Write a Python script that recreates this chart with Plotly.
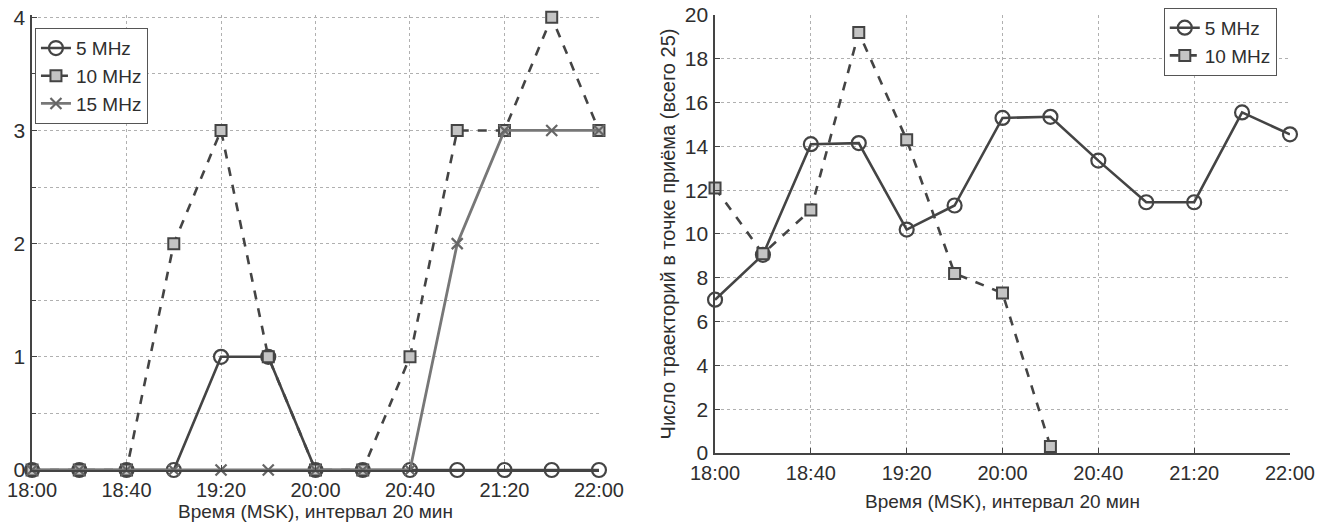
import plotly.graph_objects as go

# ---- data ----
x_idx = list(range(13))  # 20-min steps from 18:00 to 22:00
tick_pos = [0, 2, 4, 6, 8, 10, 12]
tick_labels = ["18:00", "18:40", "19:20", "20:00", "20:40", "21:20", "22:00"]

left_5mhz = [0, 0, 0, 0, 1, 1, 0, 0, 0, 0, 0, 0, 0]
left_10mhz = [0, 0, 0, 2, 3, 1, 0, 0, 1, 3, 3, 4, 3]
left_15mhz = [0, 0, 0, 0, 0, 0, 0, 0, 0, 2, 3, 3, 3]

right_5mhz = [7.0, 9.05, 14.1, 14.15, 10.2, 11.3, 15.3, 15.35, 13.35, 11.45, 11.45, 15.55, 14.55]
right_10mhz_x = [0, 1, 2, 3, 4, 5, 6, 7]
right_10mhz = [12.1, 9.1, 11.1, 19.2, 14.3, 8.2, 7.3, 0.3]

x_title = "Время (MSK), интервал 20 мин"
y_title_right = "Число траекторий в точке приёма (всего 25)"

FONT = "Liberation Sans, Arial, sans-serif"
LINE = "#444444"
TXT = "#2e2e2e"
GRID = "#b0b0b0"

fig = go.Figure()

def circle_trace(x, y, name, xa, ya, lg):
    return go.Scatter(x=x, y=y, name=name, xaxis=xa, yaxis=ya, legend=lg,
                      mode="lines+markers",
                      line=dict(color=LINE, width=2.6, dash="solid"),
                      marker=dict(symbol="circle-open", size=14, color=LINE,
                                  line=dict(width=2.2, color=LINE)),
                      cliponaxis=False)

def square_trace(x, y, name, xa, ya, lg):
    return go.Scatter(x=x, y=y, name=name, xaxis=xa, yaxis=ya, legend=lg,
                      mode="lines+markers",
                      line=dict(color=LINE, width=2.6, dash="dash"),
                      marker=dict(symbol="square", size=11, color="#c4c4c4",
                                  line=dict(width=2, color=LINE)),
                      cliponaxis=False)

# left panel
fig.add_trace(circle_trace(x_idx, left_5mhz, "5 MHz", "x", "y", "legend"))
fig.add_trace(square_trace(x_idx, left_10mhz, "10 MHz", "x", "y", "legend"))
fig.add_trace(go.Scatter(x=x_idx, y=left_15mhz, name="15 MHz", xaxis="x", yaxis="y",
                         legend="legend", mode="lines+markers",
                         line=dict(color="#777777", width=2.8, dash="solid"),
                         marker=dict(symbol="x-thin", size=11, color="#666666",
                                     line=dict(width=2.2, color="#666666")),
                         cliponaxis=False))

# right panel
fig.add_trace(circle_trace(x_idx, right_5mhz, "5 MHz", "x2", "y2", "legend2"))
fig.add_trace(square_trace(right_10mhz_x, right_10mhz, "10 MHz", "x2", "y2", "legend2"))

tickfont = dict(family=FONT, size=20, color=TXT)
ytickfont = dict(family=FONT, size=21, color=TXT)
titlefont = dict(family=FONT, size=19, color=TXT)

xcommon = dict(range=[0, 12], tickvals=tick_pos, ticktext=tick_labels,
               showgrid=True, gridcolor=GRID, griddash="dot", gridwidth=1,
               showline=True, linecolor=LINE, linewidth=1.5,
               ticks="inside", ticklen=5, tickcolor=LINE,
               tickfont=tickfont, zeroline=False, automargin=False,
               ticklabelstandoff=1,
               title=dict(text=x_title, font=titlefont, standoff=12))

fig.update_layout(
    width=1319, height=522,
    margin=dict(l=0, r=0, t=0, b=0),
    paper_bgcolor="white", plot_bgcolor="white",
    showlegend=True,
    xaxis=dict(domain=[0.0243, 0.4541], anchor="y", **xcommon),
    yaxis=dict(domain=[0.0996, 0.9713], anchor="x", range=[0, 4.02],
               tickvals=[0, 1, 2, 3, 4], showgrid=True, gridcolor=GRID,
               griddash="dot", showline=True, linecolor=LINE, linewidth=1.5,
               ticks="inside", ticklen=5, tickcolor=LINE, tickfont=ytickfont,
               zeroline=False, automargin=False, ticklabelstandoff=1,
               minor=dict(dtick=0.5, showgrid=True, gridcolor=GRID,
                          griddash="dot", ticks="inside", ticklen=4,
                          tickcolor=LINE)),
    xaxis2=dict(domain=[0.5421, 0.978], anchor="y2", **xcommon),
    yaxis2=dict(domain=[0.1322, 0.9713], anchor="x2", range=[0, 20],
                dtick=2, showgrid=True, gridcolor=GRID, griddash="dot",
                showline=True, linecolor=LINE, linewidth=1.5,
                ticks="inside", ticklen=5, tickcolor=LINE, tickfont=ytickfont,
                zeroline=False, automargin=False, ticklabelstandoff=1,
                title=dict(text=y_title_right, font=dict(family=FONT, size=20, color=TXT),
                           standoff=4)),
    legend=dict(x=0.0265, y=0.946, xanchor="left", yanchor="top",
                bordercolor="#555555", borderwidth=1, bgcolor="white",
                font=dict(family=FONT, size=19, color=TXT),
                tracegroupgap=0, itemwidth=30),
    legend2=dict(x=0.968, y=0.985, xanchor="right", yanchor="top",
                 bordercolor="#555555", borderwidth=1, bgcolor="white",
                 font=dict(family=FONT, size=19, color=TXT),
                 tracegroupgap=0, itemwidth=30),
)

fig.write_html("out.html", config={"displayModeBar": False},
               post_script="document.body.style.margin='0';")
